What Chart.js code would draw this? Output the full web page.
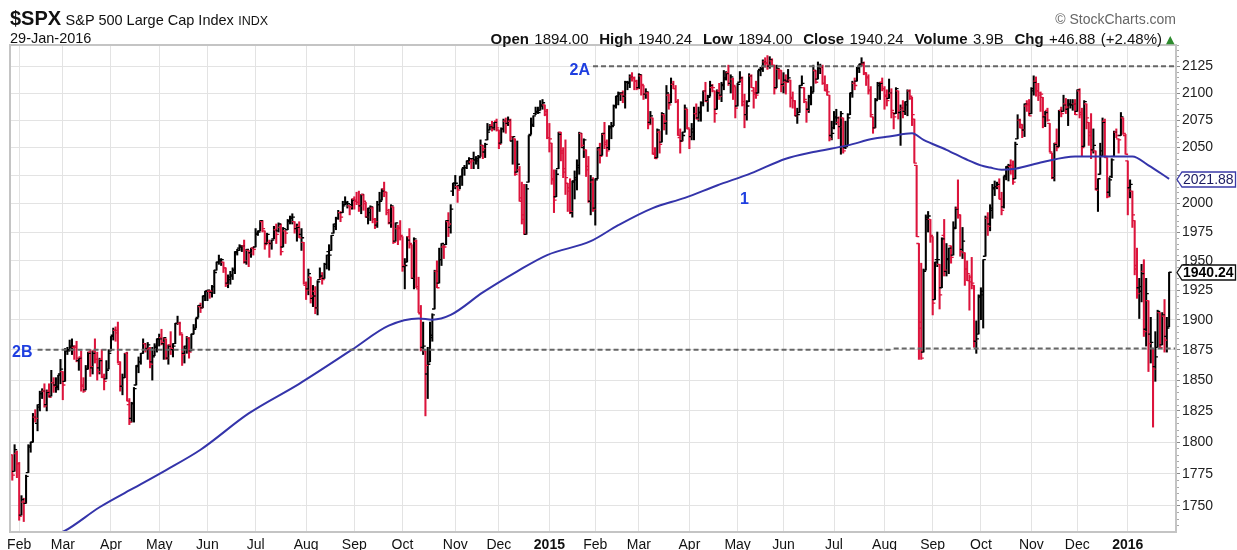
<!DOCTYPE html>
<html><head><meta charset="utf-8">
<script src="https://cdn.jsdelivr.net/npm/chart.js@4.4.0/dist/chart.umd.min.js"></script>
<style>
body{margin:0;background:#fff;}
#wrap{position:relative;width:1237px;height:550px;overflow:hidden;}
canvas{position:absolute;left:0;top:0;}
.hdr{position:absolute;font-family:"Liberation Sans",Arial,sans-serif;color:#111;white-space:nowrap;line-height:1;}
</style></head><body>
<div id="wrap">
<canvas id="c" width="1237" height="550"></canvas>
<div class="hdr" style="left:10px;top:8px;"><span style="font-size:20px;font-weight:bold;">$SPX</span> <span style="font-size:14.5px;">S&amp;P 500 Large Cap Index</span> <span style="font-size:12.5px;">INDX</span></div>
<div class="hdr" style="left:10px;top:31px;font-size:14.5px;">29-Jan-2016</div>
<div class="hdr" style="right:75px;top:31px;font-size:15px;word-spacing:1.2px;"><b>Open</b> 1894.00 &nbsp;<b>High</b> 1940.24 &nbsp;<b>Low</b> 1894.00 &nbsp;<b>Close</b> 1940.24 &nbsp;<b>Volume</b> 3.9B &nbsp;<b>Chg</b> +46.88 (+2.48%)</div>
<div class="hdr" style="left:1166px;top:34px;font-size:11px;color:#2e8b2e;font-family:'DejaVu Sans',sans-serif;">▲</div>
<div class="hdr" style="right:61px;top:12px;font-size:14px;color:#666;">© StockCharts.com</div>
</div>
<script>
// ---- DATA (SPX daily, 29-Jan-2014 .. 29-Jan-2016) ----
const opens = [1790,1777,1791,
1783,1743,1753,1752,1776,1796,1800,1820,1815,1828,1839,1841,1830,1841,1837,1848,1846,1844,1855,
1857,1849,1874,1875,1878,1877,1878,1866,1869,1845,1842,1859,1873,1860,1874,1867,1860,1867,1852,1851,1859,
1874,1887,1891,1891,1863,1845,1852,1872,1830,1819,1831,1846,1861,1865,1872,1880,1876,1876,1865,1870,1877,
1884,1885,1880,1884,1868,1879,1875,1880,1897,1897,1888,1872,1876,1885,1874,1888,1893,1902,1911,1910,1920,
1924,1924,1923,1928,1942,1949,1950,1949,1944,1931,1934,1937,1942,1958,1961,1962,1963,1949,1959,1957,1961,
1962,1974,1976,1984,1976,1965,1966,1965,1969,1977,1976,1979,1962,1976,1977,1985,1988,1984,1978,1980,1973,1966,
1929,1926,1936,1918,1924,1910,1934,1935,1935,1947,1958,1959,1974,1980,1987,1992,1992,1999,2001,1998,1999,
2004,2003,2001,1998,2008,2000,1988,1992,1996,1986,1981,1999,2003,2013,2010,1992,1983,1997,1967,1978,1979,
1971,1945,1949,1971,1964,1935,1967,1926,1905,1877,1874,1855,1865,1885,1909,1941,1931,1951,1962,1964,1984,1979,2011,
2018,2015,2016,2024,2032,2032,2038,2037,2040,2039,2038,2042,2052,2046,2057,2066,2070,2068,2074,
2066,2054,2067,2074,2072,2074,2056,2058,2028,2030,2005,1986,1973,2019,2062,2070,2081,2083,2084,2088,2089,2083,
2059,2054,2022,2006,2031,2064,2047,2031,2018,2014,1992,2020,2021,2034,2063,2050,2048,2033,2002,2019,
1996,2022,2048,2043,2062,2053,2050,2068,2070,2088,2097,2099,2099,2097,2110,2109,2115,2114,2111,
2105,2116,2107,2099,2100,2073,2077,2045,2041,2064,2055,2080,2072,2098,2091,2108,2104,2092,2059,2056,2064,2085,
2067,2060,2064,2081,2077,2082,2091,2102,2093,2097,2105,2102,2085,2102,2098,2107,2114,2119,2109,2113,2106,
2088,2110,2112,2092,2080,2092,2116,2102,2100,2100,2122,2122,2129,2128,2125,2130,2125,2105,2122,2121,
2108,2110,2111,2112,2095,2093,2079,2082,2107,2105,2092,2085,2097,2101,2121,2113,2123,2124,2109,2103,2098,2061,
2068,2078,2073,2069,2077,2050,2052,2080,2100,2109,2111,2123,2127,2127,2118,2115,2103,2078,2068,2094,2107,2110,
2104,2097,2095,2100,2082,2081,2102,2082,2086,2083,2089,2102,2095,2076,2034,1965,1898,1873,1942,1986,1986,
1971,1917,1951,1947,1927,1972,1941,1951,1963,1955,1979,1996,1990,1960,1957,1943,1933,1936,1929,1882,1888,
1919,1921,1954,1987,1982,1994,2014,2015,2015,2004,1997,2025,2032,2033,2034,2022,2058,2075,2068,2066,2088,2090,
2081,2102,2111,2102,2098,2096,2078,2084,2072,2045,2023,2054,2051,2084,2083,2090,2085,2090,2089,2090,
2083,2102,2082,2051,2090,2073,2061,2048,2047,2013,2026,2047,2074,2041,2010,2024,2042,2064,2058,2061,2077,2061,
2038,2014,2011,1985,1946,1927,1928,1941,1892,1916,1888,1876,1861,1877,1906,1879,1903,1886,1894];

const highs = [1790,1798,1793,
1784,1758,1756,1774,1798,1800,1823,1826,1830,1841,1843,1847,1842,1847,1858,1852,1852,1854,1867,
1857,1876,1877,1883,1884,1878,1882,1868,1874,1852,1862,1873,1875,1874,1884,1873,1868,1875,1855,1866,1875,
1886,1893,1894,1898,1865,1855,1872,1873,1835,1832,1844,1862,1869,1872,1884,1880,1881,1877,1877,1880,1884,
1888,1892,1885,1884,1879,1890,1880,1897,1903,1898,1888,1878,1886,1885,1888,1896,1901,1912,1914,1920,1924,
1925,1925,1929,1942,1949,1955,1952,1949,1944,1938,1941,1944,1958,1960,1964,1963,1968,1960,1959,1961,1962,
1978,1976,1985,1985,1976,1974,1968,1968,1980,1982,1983,1982,1979,1976,1986,1989,1991,1984,1982,1984,1978,1966,
1932,1943,1936,1929,1928,1933,1944,1940,1948,1955,1964,1972,1982,1988,1994,1993,2002,2006,2002,1998,2004,
2006,2010,2011,2008,2008,2001,1996,1998,1997,1987,2002,2010,2013,2019,2010,1995,1999,1997,1983,1981,1985,
1971,1952,1971,1978,1964,1970,1968,1936,1912,1898,1874,1877,1898,1905,1942,1950,1961,1965,1964,1985,1992,1999,2018,
2025,2016,2024,2031,2034,2038,2041,2040,2046,2042,2043,2057,2052,2054,2072,2071,2074,2073,2076,
2066,2068,2076,2077,2078,2076,2060,2058,2056,2033,2019,2017,2017,2061,2077,2079,2087,2087,2093,2094,2089,2085,
2072,2054,2030,2030,2064,2064,2050,2057,2018,2022,2020,2029,2039,2064,2063,2058,2048,2042,2025,2023,
2022,2050,2054,2063,2073,2057,2070,2073,2089,2097,2101,2100,2102,2111,2111,2117,2119,2115,2112,
2118,2117,2107,2104,2101,2083,2077,2050,2067,2065,2082,2080,2107,2099,2114,2111,2107,2094,2067,2064,2089,2085,
2067,2072,2087,2090,2087,2092,2102,2110,2098,2111,2108,2102,2103,2109,2110,2121,2120,2126,2117,2114,2106,
2109,2120,2115,2099,2093,2118,2117,2105,2111,2121,2124,2131,2133,2135,2134,2132,2126,2126,2123,2121,
2119,2117,2122,2112,2101,2093,2086,2107,2116,2105,2092,2098,2106,2126,2121,2129,2127,2126,2116,2108,2098,2074,
2083,2085,2078,2083,2077,2074,2081,2100,2111,2114,2124,2127,2133,2129,2119,2117,2106,2078,2095,2110,2110,2114,
2106,2103,2113,2104,2082,2105,2102,2089,2093,2092,2103,2103,2096,2076,2034,1965,1948,1943,1990,1993,1986,
1971,1949,1975,1947,1970,1986,1965,1961,1963,1984,1997,2021,1990,1979,1957,1950,1938,1953,1929,1899,1921,
1927,1951,1989,1992,1999,2017,2020,2019,2022,2010,2024,2033,2035,2039,2038,2055,2080,2076,2071,2090,2093,2094,
2105,2116,2115,2109,2101,2096,2083,2086,2072,2045,2054,2067,2084,2087,2098,2095,2094,2094,2094,2094,
2103,2104,2086,2093,2090,2073,2081,2067,2047,2022,2054,2077,2076,2041,2023,2040,2065,2067,2058,2082,2077,2062,
2038,2021,2011,1985,1961,1935,1947,1951,1935,1916,1902,1876,1890,1908,1906,1906,1917,1902,1940.24];

const lows = [1770,1777,1772,
1739,1743,1738,1752,1776,1792,1800,1816,1809,1825,1835,1828,1825,1836,1837,1840,1840,1842,1847,
1834,1849,1871,1874,1871,1867,1865,1858,1841,1840,1842,1859,1853,1855,1864,1850,1855,1852,1842,1851,1859,
1874,1883,1882,1864,1841,1838,1852,1833,1814,1816,1816,1846,1856,1863,1872,1873,1867,1860,1850,1870,1873,
1878,1879,1867,1867,1863,1871,1869,1880,1896,1887,1862,1864,1872,1868,1874,1888,1893,1902,1906,1910,1916,
1916,1918,1919,1922,1942,1947,1946,1940,1928,1927,1930,1934,1939,1955,1959,1958,1948,1947,1945,1953,1955,
1962,1972,1976,1975,1960,1965,1953,1960,1969,1965,1975,1955,1962,1965,1977,1982,1982,1974,1967,1970,1959,1930,
1917,1921,1914,1911,1905,1904,1934,1930,1935,1943,1942,1959,1974,1977,1986,1984,1992,1999,1996,1990,1995,
1995,1999,1993,1991,1994,1988,1982,1985,1983,1978,1979,1993,2003,2006,1990,1982,1979,1965,1967,1964,1968,
1941,1926,1949,1961,1935,1926,1927,1906,1874,1871,1821,1835,1865,1882,1909,1927,1931,1946,1952,1964,1971,1974,2007,
2013,2001,2013,2016,2025,2031,2035,2031,2031,2035,2031,2042,2040,2041,2057,2066,2065,2066,2065,
2049,2054,2064,2063,2070,2056,2035,2025,2028,2002,1982,1973,1973,2019,2062,2069,2080,2081,2084,2085,2079,2058,
2046,2017,1992,2006,2031,2038,2023,2008,1993,1991,1988,2004,2012,2026,2050,2041,2024,2001,1990,1993,
1981,2022,2036,2043,2049,2042,2048,2058,2070,2086,2089,2093,2091,2086,2103,2105,2111,2103,2103,
2104,2098,2094,2095,2067,2071,2044,2040,2041,2045,2055,2066,2062,2085,2091,2104,2091,2061,2045,2056,2064,2067,
2049,2057,2057,2076,2074,2074,2088,2092,2083,2097,2101,2073,2085,2094,2092,2103,2112,2107,2100,2094,2077,
2088,2110,2088,2068,2075,2092,2105,2086,2095,2100,2116,2120,2124,2122,2123,2126,2099,2105,2113,2101,
2100,2099,2110,2087,2086,2079,2072,2082,2107,2091,2073,2082,2089,2101,2109,2113,2118,2108,2102,2098,2056,2057,
2067,2071,2058,2044,2045,2049,2052,2080,2096,2103,2111,2119,2125,2117,2107,2099,2078,2063,2068,2094,2094,2102,
2085,2088,2095,2077,2067,2081,2076,2052,2077,2080,2079,2094,2070,2036,1971,1867,1867,1873,1942,1975,1966,
1904,1917,1945,1909,1927,1937,1937,1939,1948,1955,1978,1987,1954,1952,1929,1933,1908,1926,1877,1872,1888,
1900,1893,1954,1972,1976,1987,2007,2013,2004,1990,1996,2021,2020,2026,2017,2022,2058,2068,2059,2060,2083,2079,
2081,2098,2097,2093,2083,2068,2069,2074,2046,2022,2020,2047,2051,2078,2083,2081,2070,2086,2084,2080,
2083,2077,2042,2051,2067,2052,2040,2045,2012,1993,2026,2042,2041,2005,2006,2023,2042,2059,2045,2061,2062,2044,
1990,2005,1979,1938,1918,1901,1915,1886,1878,1857,1864,1812,1849,1877,1876,1879,1873,1873,1894];

const closes = [1774,1794,1783,
1742,1755,1752,1773,1797,1800,1820,1819,1830,1839,1841,1829,1840,1836,1848,1845,1845,1854,1859,
1846,1874,1874,1877,1878,1877,1868,1868,1846,1841,1859,1872,1861,1872,1867,1857,1866,1853,1849,1858,1872,
1886,1891,1889,1865,1845,1852,1872,1833,1816,1831,1843,1862,1865,1872,1880,1875,1879,1863,1869,1878,1884,
1884,1881,1885,1868,1878,1876,1878,1897,1897,1889,1871,1878,1885,1873,1888,1892,1901,1912,1910,1920,1924,
1925,1924,1928,1940,1949,1951,1951,1944,1930,1936,1938,1942,1957,1959,1963,1963,1950,1960,1957,1961,1960,
1973,1975,1985,1978,1964,1973,1965,1968,1977,1973,1982,1958,1978,1974,1984,1987,1988,1978,1979,1970,1970,1931,
1925,1939,1920,1920,1910,1932,1937,1934,1947,1955,1955,1972,1982,1987,1992,1988,1998,2000,2000,1997,2003,
2002,2001,1998,2008,2002,1988,1996,1997,1986,1984,1999,2002,2011,2010,1994,1983,1998,1966,1983,1978,1972,
1946,1946,1968,1965,1935,1969,1928,1906,1875,1878,1862,1863,1887,1904,1941,1927,1951,1965,1962,1985,1982,1995,2018,
2018,2012,2024,2031,2032,2038,2040,2038,2039,2040,2041,2052,2049,2053,2064,2069,2067,2073,2068,
2053,2067,2074,2072,2075,2060,2060,2026,2035,2002,1990,1973,2013,2061,2071,2079,2082,2082,2089,2091,2080,2059,
2058,2021,2003,2026,2062,2045,2028,2023,2011,1993,2019,2023,2032,2063,2052,2057,2030,2002,2021,1995,
2021,2050,2042,2063,2055,2047,2069,2069,2088,2097,2100,2100,2097,2110,2110,2115,2114,2111,2104,
2117,2108,2099,2101,2071,2079,2044,2040,2066,2053,2081,2074,2100,2089,2108,2104,2092,2061,2056,2061,2086,2068,
2060,2067,2081,2076,2082,2091,2102,2092,2096,2107,2105,2081,2100,2097,2108,2113,2118,2109,2115,2107,2086,
2108,2114,2089,2080,2088,2116,2105,2099,2098,2121,2123,2129,2128,2126,2131,2126,2104,2123,2121,2107,
2112,2110,2114,2096,2093,2079,2080,2105,2109,2094,2084,2096,2100,2121,2110,2123,2124,2109,2102,2101,2058,2063,
2077,2077,2069,2081,2047,2051,2077,2100,2109,2107,2124,2127,2128,2119,2114,2102,2080,2068,2093,2109,2109,2104,
2098,2093,2100,2084,2078,2104,2084,2086,2083,2092,2102,2097,2080,2036,1971,1893,1868,1941,1988,1989,1972,
1914,1949,1951,1921,1969,1942,1952,1961,1953,1978,1995,1990,1958,1967,1943,1939,1932,1931,1882,1884,1920,
1924,1951,1987,1980,1996,2013,2015,2017,2004,1994,2024,2033,2034,2031,2019,2053,2075,2071,2066,2090,2089,2079,
2104,2110,2102,2100,2099,2079,2082,2075,2046,2023,2053,2050,2084,2081,2089,2087,2089,2089,2090,2080,
2103,2080,2050,2092,2077,2064,2048,2052,2012,2022,2043,2073,2042,2006,2021,2039,2064,2061,2057,2078,2063,2044,
2013,2017,1990,1943,1922,1924,1939,1890,1922,1880,1881,1859,1869,1907,1877,1904,1883,1893,1940.24];

// 200-day moving average (trading-day index, value)
const maIndex = [10,23,38,52,67,82,103,125,148,164,177,183,191,205,220,233,252,264,279,293,307,322,337,349,364,375,382,392,397,407,416,422,426,431,437,449,463,477,488,495,504];
const maValues = [1722,1731,1749,1763,1778,1794,1823,1847,1875,1895,1901,1900,1904,1923,1941,1955,1967,1981,1996,2005,2016,2027,2040,2046,2052,2058,2060,2063,2057,2048,2039,2034,2032,2030,2031,2037,2042,2042,2042,2034,2021.88];

// month axis (trading-day index of each month's first session)
const monthLabels = ['Feb','Mar','Apr','May','Jun','Jul','Aug','Sep','Oct','Nov','Dec','2015','Feb','Mar','Apr','May','Jun','Jul','Aug','Sep','Oct','Nov','Dec','2016'];
const monthStarts = [3,22,43,64,85,106,128,149,170,193,212,234,254,273,295,316,336,358,380,401,422,444,464,486];
const priceTicks = [1750,1775,1800,1825,1850,1875,1900,1925,1950,1975,2000,2025,2050,2075,2100,2125];

// trend lines: level 2A, level 2B (two drawn pieces)
const line2A = {from:253, to:507, value:2125};
const line2B = [{from:11, to:383, value:1875},{from:384, to:507, value:1876}];
const lastClose = 1940.24, lastMA = 2021.88;

if (opens.length!==505||highs.length!==505||lows.length!==505||closes.length!==505) throw new Error('length mismatch '+opens.length+' '+highs.length+' '+lows.length+' '+closes.length);

const RED = 'rgb(220,20,60)', BLACK = '#000';
const barColors = closes.map((c,i)=> (i>0 && c < closes[i-1]) ? RED : (i===0 && c<opens[i] ? RED : BLACK));

Chart.defaults.font.family = '"Liberation Sans", Arial, sans-serif';

const ohlcTicks = {
  id:'ohlcTicks',
  afterDatasetDraw(chart, args){
    if (args.index !== 0) return;
    const {ctx, chartArea:a} = chart; const xs = chart.scales.x, ys = chart.scales.y;
    ctx.save();
    ctx.beginPath(); ctx.rect(a.left, a.top, a.right-a.left, a.bottom-a.top); ctx.clip();
    ctx.lineWidth = 1.3;
    for (let i=0;i<closes.length;i++){
      const px = xs.getPixelForValue(i);
      const po = ys.getPixelForValue(opens[i]), pc = ys.getPixelForValue(closes[i]);
      ctx.strokeStyle = barColors[i];
      ctx.beginPath();
      ctx.moveTo(px-2.6, po); ctx.lineTo(px, po);
      ctx.moveTo(px, pc); ctx.lineTo(px+2.6, pc);
      ctx.stroke();
    }
    ctx.restore();
  }
};

const decor = {
  id:'decor',
  afterDraw(chart){
    const {ctx, chartArea:a} = chart; const xs = chart.scales.x, ys = chart.scales.y;
    ctx.save();
    // plot frame
    ctx.strokeStyle = '#c4c4c4'; ctx.lineWidth = 2;
    ctx.strokeRect(a.left, a.top, a.right-a.left, a.bottom-a.top);
    // minor price ticks on the right edge
    ctx.strokeStyle = '#aaa'; ctx.lineWidth = 1;
    ctx.beginPath();
    for (let v = 1735; v <= 2145; v += 5) {
      if (v % 25 === 0) continue;
      const y = Math.round(ys.getPixelForValue(v)) + 0.5;
      ctx.moveTo(a.right+1, y); ctx.lineTo(a.right+3, y);
    }
    ctx.stroke();
    // labels
    ctx.fillStyle = '#1f3fe0'; ctx.font = 'bold 16px "Liberation Sans", Arial, sans-serif';
    ctx.textBaseline = 'middle';
    ctx.textAlign = 'right';
    ctx.fillText('2A', xs.getPixelForValue(line2A.from)-3, ys.getPixelForValue(line2A.value)+4);
    ctx.textAlign = 'left';
    ctx.fillText('2B', a.left+2, ys.getPixelForValue(line2B[0].value)+3);
    ctx.textAlign = 'center';
    ctx.fillText('1', xs.getPixelForValue(319), ys.getPixelForValue(2003.6));
    // value boxes
    const box = (v, text, stroke, color, bold) => {
      const y = Math.round(ys.getPixelForValue(v))+0.5;
      const tip = a.right+1, l = tip+5, r = chart.width-1.5, h = 7.5;
      ctx.beginPath();
      ctx.moveTo(tip,y); ctx.lineTo(l,y-h); ctx.lineTo(r,y-h); ctx.lineTo(r,y+h); ctx.lineTo(l,y+h); ctx.closePath();
      ctx.fillStyle = '#fff'; ctx.fill();
      ctx.strokeStyle = stroke; ctx.lineWidth = 1.3; ctx.stroke();
      ctx.fillStyle = color; ctx.textAlign = 'left'; ctx.textBaseline = 'middle';
      ctx.font = (bold?'bold ':'') + '14px "Liberation Sans", Arial, sans-serif';
      ctx.fillText(text, l+1, y+1);
    };
    box(lastMA, lastMA.toFixed(2), '#3a3aa8', '#1b1b60', false);
    box(lastClose, lastClose.toFixed(2), '#111', '#000', true);
    ctx.restore();
  }
};

const dashed = (from, to, value) => ({
  type:'line', data:[{x:from,y:value},{x:to,y:value}], borderColor:'#666', borderWidth:2,
  borderDash:[5,3], pointRadius:0, order:0, fill:false
});

new Chart(document.getElementById('c'), {
  data: {
    datasets: [
      { type:'bar', data: lows.map((l,i)=>({x:i, y:[l, highs[i]]})), backgroundColor: barColors,
        barThickness:1.4, borderWidth:0, order:3, grouped:false },
      { type:'line', data: maIndex.map((x,k)=>({x, y:maValues[k]})), borderColor:'#3434aa', borderWidth:2,
        pointRadius:0, tension:0.4, cubicInterpolationMode:'monotone', order:1, fill:false },
      dashed(line2A.from, line2A.to, line2A.value),
      dashed(line2B[0].from, line2B[0].to, line2B[0].value),
      dashed(line2B[1].from, line2B[1].to, line2B[1].value)
    ]
  },
  options: {
    responsive:false, animation:false, devicePixelRatio:1, events:[],
    layout:{padding:{left:10, top:45, right:0, bottom:0}},
    plugins:{legend:{display:false}, tooltip:{enabled:false}},
    scales:{
      x:{ type:'linear', min:-1, max:507, offset:false,
        afterBuildTicks: s => { s.ticks = monthStarts.map(v=>({value:v})); },
        afterFit: s => { s.height = 18; },
        ticks:{ autoSkip:false, maxRotation:0, padding:5, color:'#111',
          callback:(v,idx)=>monthLabels[idx],
          font: ctx => ({size:14, weight: /^\d{4}$/.test(monthLabels[ctx.index]||'') ? 'bold' : 'normal'}) },
        grid:{ color:'#e3e3e3', lineWidth:1, offset:false, drawTicks:false },
        border:{display:false}
      },
      y:{ type:'logarithmic', position:'right', min:1730, max:2145,
        afterBuildTicks: s => { s.ticks = priceTicks.map(v=>({value:v})); },
        afterFit: s => { s.width = 61; },
        ticks:{ autoSkip:false, padding:2, color:'#222', font:{size:14},
          callback: v => (Math.abs(Math.log(v/lastMA)) < 0.003 ? '' : String(v)) },
        grid:{ color:'#e3e3e3', lineWidth:1, tickLength:4, tickColor:'#888' },
        border:{display:false}
      }
    }
  },
  plugins:[ohlcTicks, decor]
});
</script>
</body></html>
